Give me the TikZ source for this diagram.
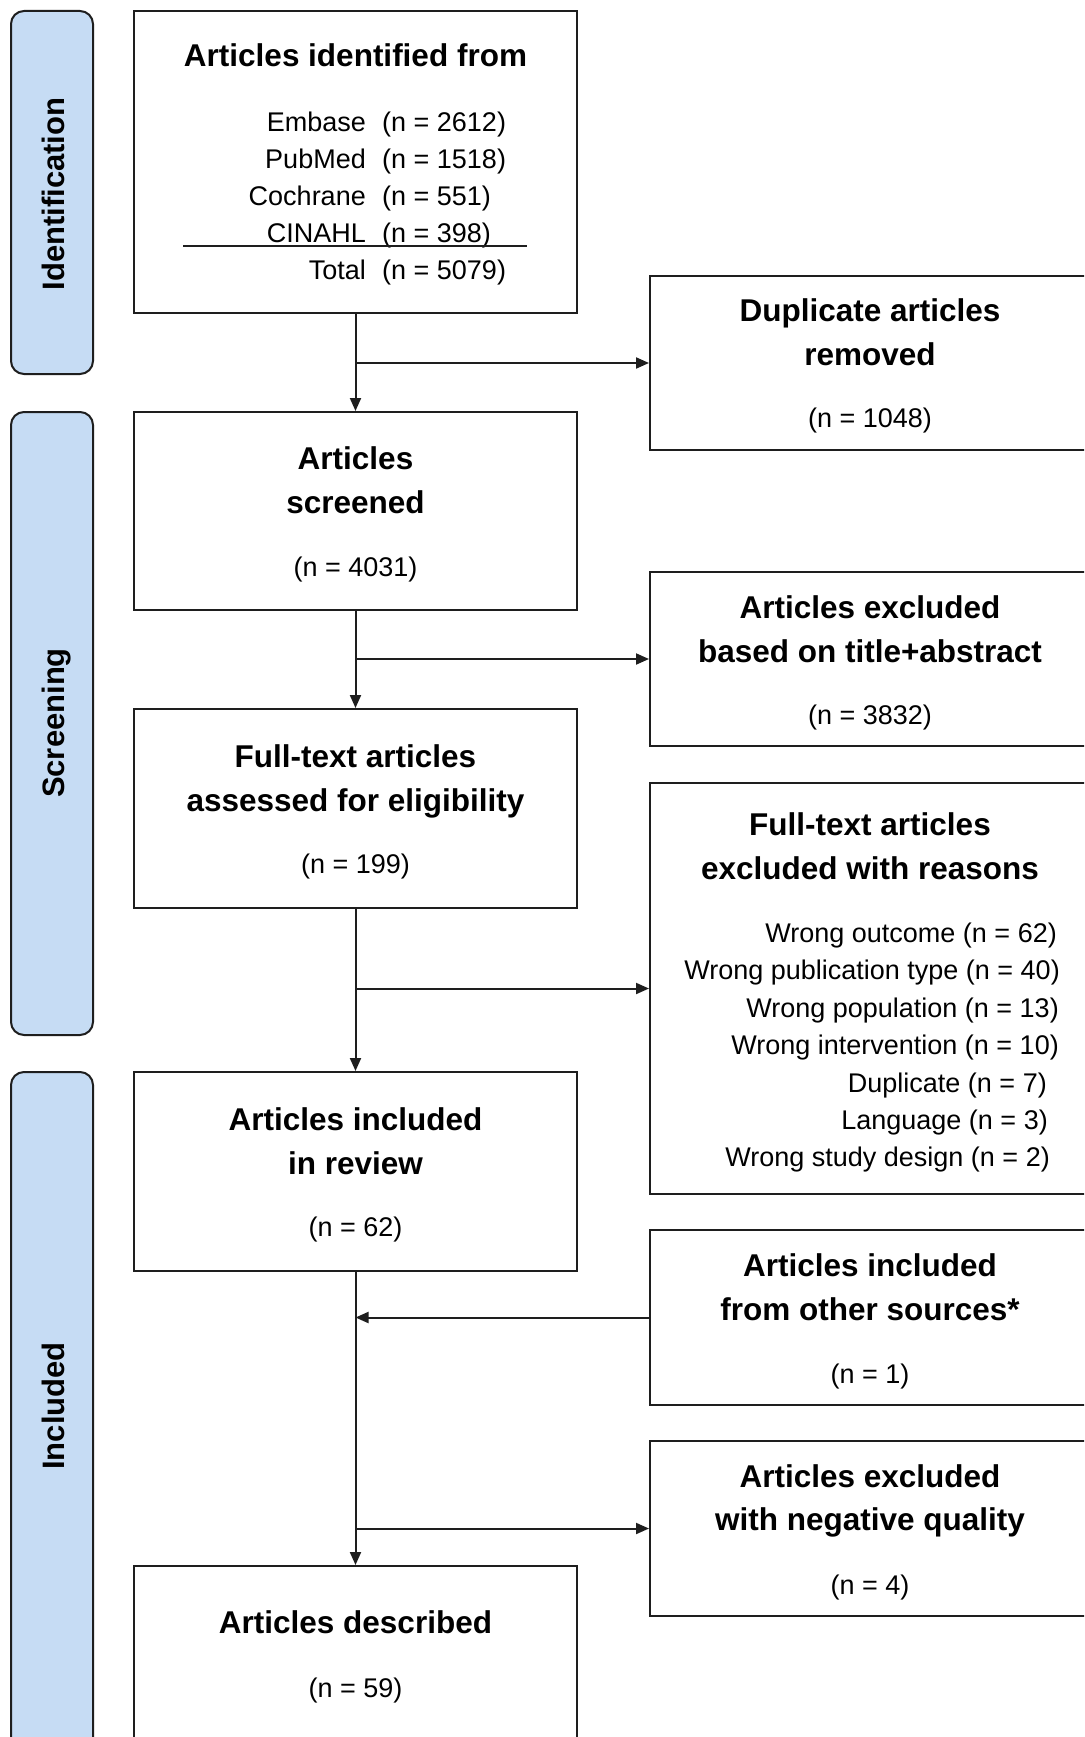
\documentclass[tikz,border=0pt]{standalone}
\usepackage{fontspec}
\setmainfont{Liberation Sans}
\usetikzlibrary{arrows.meta}
\definecolor{phaseblue}{RGB}{198,220,244}
\definecolor{edge}{RGB}{30,30,30}
\begin{document}
\begin{tikzpicture}[x=1pt,y=-1pt,
  box/.style={draw=edge, line width=2pt, inner sep=0pt, minimum width=443pt},
  rbox/.style={draw=edge, line width=2pt, inner sep=0pt, minimum width=450pt},
  phase/.style={draw=edge, line width=2pt, fill=phaseblue, rounded corners=13pt, inner sep=0pt, minimum width=82pt},
  plabel/.style={font=\bfseries\fontsize{31}{36}\selectfont, rotate=90, inner sep=0pt, text height=22.2pt, text depth=0pt},
  ttl/.style={font=\bfseries\fontsize{31.5}{36}\selectfont, inner sep=0pt, text height=22.5pt, text depth=0pt},
  txt/.style={font=\fontsize{27}{32}\selectfont, inner sep=0pt, text height=19.4pt, text depth=0pt},
  arr/.style={draw=edge, line width=2pt, -{Triangle[length=13pt,width=11pt]}},
  ln/.style={draw=edge, line width=2pt},
]
\useasboundingbox (0,0) rectangle (1084,1737);
\clip (0,0) rectangle (1084,1737);
\fill[white] (0,0) rectangle (1084,1737);

% phase bars
\node[phase, minimum height=363pt] (pid) at (52,192.5) {};
\node[plabel] (pidl) at (53,194) {Identification};
\node[phase, minimum height=623pt] (psc) at (52,723.5) {};
\node[plabel] (pscl) at (53,723) {Screening};
\node[phase, minimum height=690pt] (pin) at (52,1417) {};
\node[plabel] (pinl) at (53,1406) {Included};

% left column boxes
\node[box, minimum height=302pt] (b1) at (355.5,162) {};
\node[ttl] (b1t) at (355.5,55) {Articles identified from};
\node[txt, anchor=east] (s1) at (366,122) {Embase};
\node[txt, anchor=west] (n1) at (382,122) {(n = 2612)};
\node[txt, anchor=east] (s2) at (366,159) {PubMed};
\node[txt, anchor=west] (n2) at (382,159) {(n = 1518)};
\node[txt, anchor=east] (s3) at (366,196) {Cochrane};
\node[txt, anchor=west] (n3) at (382,196) {(n = 551)};
\node[txt, anchor=east] (s4) at (366,233) {CINAHL};
\node[txt, anchor=west] (n4) at (382,233) {(n = 398)};
\node[txt, anchor=east] (s5) at (366,270) {Total};
\node[txt, anchor=west] (n5) at (382,270) {(n = 5079)};
\coordinate (ulA) at (183,246);
\coordinate (ulB) at (527,246);
\draw[ln] (ulA) -- (ulB);

\node[box, minimum height=198pt] (scr) at (355.5,511) {};
\node[ttl] (scrt1) at (355.5,458) {Articles};
\node[ttl] (scrt2) at (355.5,502) {screened};
\node[txt] (scrn) at (355.5,567) {(n = 4031)};

\node[box, minimum height=199pt] (ft) at (355.5,808.5) {};
\node[ttl] (ftt1) at (355.5,756) {Full-text articles};
\node[ttl] (ftt2) at (355.5,800) {assessed for eligibility};
\node[txt] (ftn) at (355.5,864) {(n = 199)};

\node[box, minimum height=199pt] (inc) at (355.5,1171.5) {};
\node[ttl] (inct1) at (355.5,1119) {Articles included};
\node[ttl] (inct2) at (355.5,1163) {in review};
\node[txt] (incn) at (355.5,1227) {(n = 62)};

\node[box, minimum height=200pt] (des) at (355.5,1666) {};
\node[ttl] (dest) at (355.5,1622) {Articles described};
\node[txt] (desn) at (355.5,1688) {(n = 59)};

% right column boxes
\node[rbox, minimum height=174pt] (dup) at (875,363) {};
\node[ttl] (dupt1) at (870,310) {Duplicate articles};
\node[ttl] (dupt2) at (870,354) {removed};
\node[txt] (dupn) at (870,418) {(n = 1048)};

\node[rbox, minimum height=174pt] (exta) at (875,659) {};
\node[ttl] (exta1) at (870,607) {Articles excluded};
\node[ttl] (exta2) at (870,651) {based on title+abstract};
\node[txt] (extan) at (870,715) {(n = 3832)};

\node[rbox, minimum height=411pt] (exft) at (875,988.5) {};
\node[ttl] (exft1) at (870,824) {Full-text articles};
\node[ttl] (exft2) at (870,868) {excluded with reasons};
\node[txt, anchor=east] (r1) at (1057,933) {Wrong outcome (n = 62)};
\node[txt, anchor=east] (r2) at (1060,970) {Wrong publication type (n = 40)};
\node[txt, anchor=east] (r3) at (1059,1008) {Wrong population (n = 13)};
\node[txt, anchor=east] (r4) at (1059,1045) {Wrong intervention (n = 10)};
\node[txt, anchor=east] (r5) at (1047,1083) {Duplicate (n = 7)};
\node[txt, anchor=east] (r6) at (1048,1120) {Language (n = 3)};
\node[txt, anchor=east] (r7) at (1050,1157) {Wrong study design (n = 2)};

\node[rbox, minimum height=175pt] (oth) at (875,1317.5) {};
\node[ttl] (oth1) at (870,1265) {Articles included};
\node[ttl] (oth2) at (870,1309) {from other sources*};
\node[txt] (othn) at (870,1374) {(n = 1)};

\node[rbox, minimum height=175pt] (neg) at (875,1528.5) {};
\node[ttl] (neg1) at (870,1476) {Articles excluded};
\node[ttl] (neg2) at (870,1519) {with negative quality};
\node[txt] (negn) at (870,1585) {(n = 4)};

% connectors
\draw[arr] (b1.south) -- (scr.north);
\draw[arr] (b1.south |- dup.west) -- (dup.west);
\draw[arr] (scr.south) -- (ft.north);
\draw[arr] (scr.south |- exta.west) -- (exta.west);
\draw[arr] (ft.south) -- (inc.north);
\draw[arr] (ft.south |- exft.west) -- (exft.west);
\draw[arr] (inc.south) -- (des.north);
\draw[arr] (oth.west) -- (oth.west -| inc.south);
\draw[arr] (inc.south |- neg.west) -- (neg.west);
\end{tikzpicture}
\end{document}
